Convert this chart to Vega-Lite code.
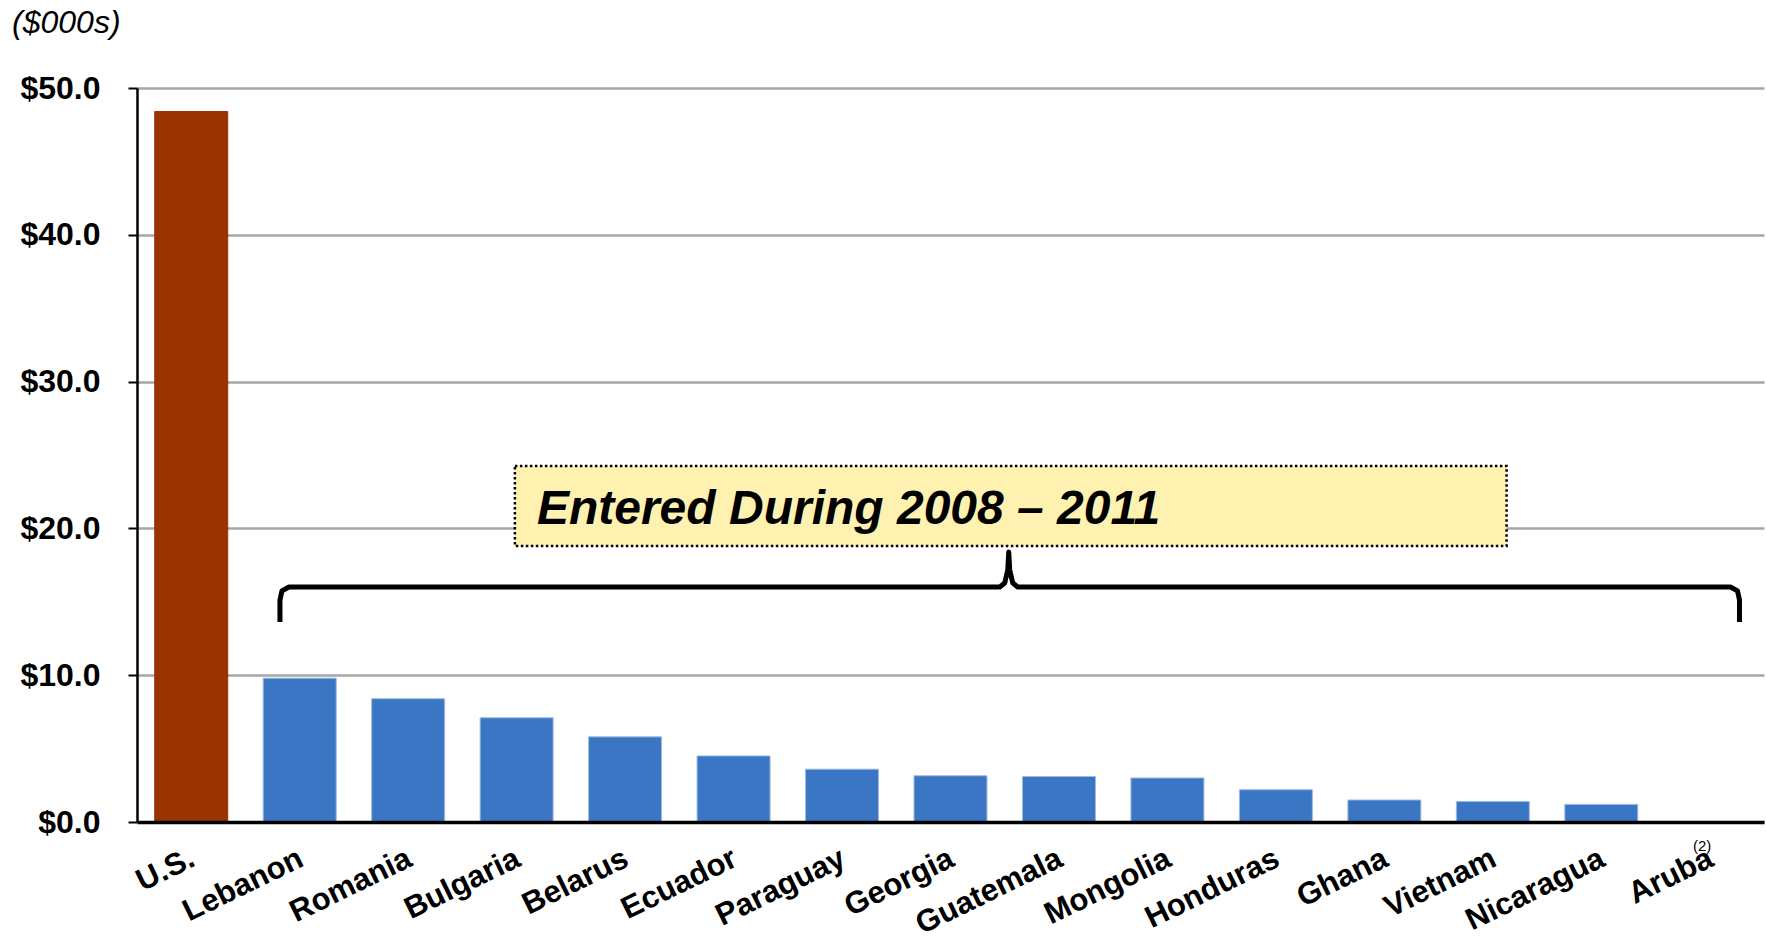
{
  "$schema": "https://vega.github.io/schema/vega-lite/v6.json",
  "width": 1627,
  "height": 734,
  "autosize": {"type": "none"},
  "padding": {"left": 137, "top": 88, "right": 2, "bottom": 121},
  "background": "white",
  "config": {
    "view": {"stroke": null},
    "font": "Liberation Sans",
    "axisY": {
      "gridColor": "#a6a6a6",
      "gridWidth": 2.5,
      "domainColor": "black",
      "domainWidth": 2.5,
      "tickColor": "black",
      "tickWidth": 2,
      "tickSize": 9,
      "labelFontSize": 32,
      "labelFontWeight": "bold",
      "labelColor": "black",
      "labelPadding": 28,
      "labelFont": "Liberation Sans"
    }
  },
  "datasets": {
    "bars": [
      {"country": "U.S.", "value": 48.4, "group": "U.S."},
      {"country": "Lebanon", "value": 9.8, "group": "Entered"},
      {"country": "Romania", "value": 8.4, "group": "Entered"},
      {"country": "Bulgaria", "value": 7.1, "group": "Entered"},
      {"country": "Belarus", "value": 5.8, "group": "Entered"},
      {"country": "Ecuador", "value": 4.5, "group": "Entered"},
      {"country": "Paraguay", "value": 3.6, "group": "Entered"},
      {"country": "Georgia", "value": 3.15, "group": "Entered"},
      {"country": "Guatemala", "value": 3.1, "group": "Entered"},
      {"country": "Mongolia", "value": 3.0, "group": "Entered"},
      {"country": "Honduras", "value": 2.2, "group": "Entered"},
      {"country": "Ghana", "value": 1.5, "group": "Entered"},
      {"country": "Vietnam", "value": 1.4, "group": "Entered"},
      {"country": "Nicaragua", "value": 1.2, "group": "Entered"},
      {"country": "Aruba", "value": null, "group": "Entered"}
    ],
    "brace": [
      {"i": 0, "bx": 1.318, "by": 13.62},
      {"i": 1, "bx": 1.318, "by": 15.12},
      {"i": 2, "bx": 1.336, "by": 15.74},
      {"i": 3, "bx": 1.401, "by": 16.01},
      {"i": 4, "bx": 7.954, "by": 16.01},
      {"i": 5, "bx": 8.0, "by": 16.28},
      {"i": 6, "bx": 8.028, "by": 17.17},
      {"i": 7, "bx": 8.037, "by": 18.39},
      {"i": 8, "bx": 8.046, "by": 17.17},
      {"i": 9, "bx": 8.074, "by": 16.28},
      {"i": 10, "bx": 8.12, "by": 16.01},
      {"i": 11, "bx": 14.691, "by": 16.01},
      {"i": 12, "bx": 14.756, "by": 15.74},
      {"i": 13, "bx": 14.774, "by": 15.12},
      {"i": 14, "bx": 14.774, "by": 13.62}
    ],
    "one": [{}]
  },
  "layer": [
    {
      "data": {"name": "bars"},
      "mark": {"type": "bar", "strokeWidth": 1},
      "encoding": {
        "x": {
          "field": "country",
          "type": "nominal",
          "sort": null,
          "scale": {
            "domain": ["U.S.", "Lebanon", "Romania", "Bulgaria", "Belarus", "Ecuador", "Paraguay", "Georgia", "Guatemala", "Mongolia", "Honduras", "Ghana", "Vietnam", "Nicaragua", "Aruba"],
            "paddingInner": 0.327,
            "paddingOuter": 0.1635
          },
          "axis": {
            "title": null,
            "labelAngle": -26,
            "labelAlign": "right",
            "labelBaseline": "top",
            "labelFontSize": 31,
            "labelFontWeight": "bold",
            "labelColor": "black",
            "labelFont": "Liberation Sans",
            "labelPadding": 21,
            "labelOffset": -5,
            "ticks": false,
            "grid": false,
            "domainColor": "black",
            "domainWidth": 3.5,
            "labelOverlap": false,
            "labelLimit": 0,
            "zindex": 2
          }
        },
        "y": {
          "field": "value",
          "type": "quantitative",
          "scale": {"domain": [0, 50], "nice": false},
          "axis": {"title": null, "values": [0, 10, 20, 30, 40, 50], "format": "$.1f", "grid": true}
        },
        "color": {
          "field": "group",
          "type": "nominal",
          "scale": {"domain": ["U.S.", "Entered"], "range": ["#993300", "#3b76c4"]},
          "legend": null
        },
        "stroke": {
          "field": "group",
          "type": "nominal",
          "scale": {"domain": ["U.S.", "Entered"], "range": ["#993300", "#9dbbe3"]},
          "legend": null
        }
      }
    },
    {
      "layer": [
        {
          "data": {"name": "one"},
          "mark": {"type": "rect", "fill": "#fff2b0", "stroke": "black", "strokeWidth": 2.5, "strokeDash": [2.5, 2.5]},
          "encoding": {
            "x": {"datum": 3.484, "type": "quantitative", "scale": {"domain": [0, 15], "nice": false, "zero": false}, "axis": null},
            "x2": {"datum": 12.627},
            "y": {"datum": 18.8, "type": "quantitative", "scale": {"domain": [0, 50], "nice": false}, "title": null},
            "y2": {"datum": 24.25}
          }
        },
        {
          "data": {"name": "one"},
          "mark": {"type": "text", "text": "Entered During 2008 \u2013 2011", "align": "left", "baseline": "alphabetic", "fontSize": 48, "fontWeight": "bold", "fontStyle": "italic", "color": "black", "font": "Liberation Sans"},
          "encoding": {
            "x": {"datum": 3.687, "type": "quantitative", "scale": {"domain": [0, 15], "nice": false, "zero": false}, "axis": null},
            "y": {"datum": 20.3, "type": "quantitative", "scale": {"domain": [0, 50], "nice": false}, "title": null}
          }
        },
        {
          "data": {"name": "brace"},
          "mark": {"type": "line", "color": "black", "strokeWidth": 5, "strokeJoin": "round", "strokeCap": "butt"},
          "encoding": {
            "x": {"field": "bx", "type": "quantitative", "scale": {"domain": [0, 15], "nice": false, "zero": false}, "axis": null},
            "y": {"field": "by", "type": "quantitative", "scale": {"domain": [0, 50], "nice": false}, "title": null},
            "order": {"field": "i", "type": "quantitative"}
          }
        },
        {
          "data": {"name": "one"},
          "mark": {"type": "text", "text": "(2)", "align": "center", "baseline": "middle", "fontSize": 15, "color": "black", "font": "Liberation Sans"},
          "encoding": {
            "x": {"datum": 14.43, "type": "quantitative", "scale": {"domain": [0, 15], "nice": false, "zero": false}, "axis": null},
            "y": {"datum": -1.63, "type": "quantitative", "scale": {"domain": [0, 50], "nice": false}, "title": null}
          }
        },
        {
          "data": {"name": "one"},
          "mark": {"type": "text", "text": "($000s)", "align": "left", "baseline": "alphabetic", "fontSize": 32, "fontStyle": "italic", "color": "black", "font": "Liberation Sans"},
          "encoding": {
            "x": {"datum": -1.152, "type": "quantitative", "scale": {"domain": [0, 15], "nice": false, "zero": false}, "axis": null},
            "y": {"datum": 53.75, "type": "quantitative", "scale": {"domain": [0, 50], "nice": false}, "title": null}
          }
        }
      ]
    }
  ],
  "resolve": {"scale": {"x": "independent"}}
}
